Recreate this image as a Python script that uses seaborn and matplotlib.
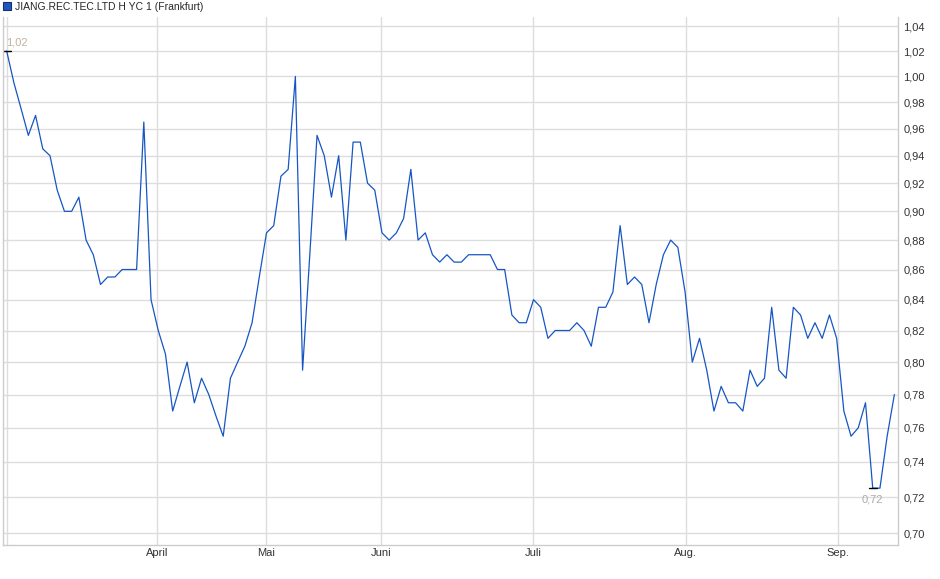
import matplotlib
matplotlib.use('Agg')
import matplotlib.pyplot as plt
from matplotlib.lines import Line2D
from matplotlib.ticker import NullLocator, FuncFormatter
import numpy as np
import pandas as pd
import seaborn as sns

# closing prices, one per trading day
prices = [
    1.02, 0.995, 0.975, 0.955, 0.97, 0.945, 0.94, 0.915, 0.90, 0.90,
    0.91, 0.88, 0.87, 0.85, 0.855, 0.855, 0.86, 0.86, 0.86, 0.965,
    0.84, 0.82, 0.805, 0.77, 0.785, 0.80, 0.775, 0.79, 0.78, 0.767,
    0.755, 0.79, 0.80, 0.81, 0.825, 0.855, 0.885, 0.89, 0.925, 0.93,
    1.00, 0.795, 0.87, 0.955, 0.94, 0.91, 0.94, 0.88, 0.95, 0.95,
    0.92, 0.915, 0.885, 0.88, 0.885, 0.895, 0.93, 0.88, 0.885, 0.87,
    0.865, 0.87, 0.865, 0.865, 0.87, 0.87, 0.87, 0.87, 0.86, 0.86,
    0.83, 0.825, 0.825, 0.84, 0.835, 0.815, 0.82, 0.82, 0.82, 0.825,
    0.82, 0.81, 0.835, 0.835, 0.845, 0.89, 0.85, 0.855, 0.85, 0.825,
    0.85, 0.87, 0.88, 0.875, 0.845, 0.80, 0.815, 0.795, 0.77, 0.785,
    0.775, 0.775, 0.77, 0.795, 0.785, 0.79, 0.835, 0.795, 0.79, 0.835,
    0.83, 0.815, 0.825, 0.815, 0.83, 0.815, 0.77, 0.755, 0.76, 0.775,
    0.725, 0.725, 0.755, 0.78,
]
month_labels = ['April', 'Mai', 'Juni', 'Juli', 'Aug.', 'Sep.']
month_pos = [20.87, 35.98, 51.92, 72.98, 94.09, 115.14]
y_ticks = [0.70, 0.72, 0.74, 0.76, 0.78, 0.80, 0.82, 0.84, 0.86, 0.88,
           0.90, 0.92, 0.94, 0.96, 0.98, 1.00, 1.02, 1.04]
series_name = 'JIANG.REC.TEC.LTD H YC 1 (Frankfurt)'
max_label = '1,02'
min_label = '0,72'

LINE = '#1656c4'
GRID = '#dddddd'

df = pd.DataFrame({'idx': np.arange(len(prices)), 'price': prices})

sns.set_style('white')
plt.rcParams['font.family'] = ['Liberation Sans', 'DejaVu Sans']

fig = plt.figure(figsize=(9.4, 5.79), dpi=100)
ax = fig.add_axes([0.0029, 0.0587, 0.9524, 0.9119])

sns.lineplot(data=df, x='idx', y='price', ax=ax, color=LINE, lw=0.9, legend=False)

ax.set_yscale('log')
ax.set_ylim(0.6935, 1.0475)
ax.set_xlim(-0.55, len(prices) - 0.5)
ax.set_yticks(y_ticks)
ax.yaxis.set_minor_locator(NullLocator())
ax.yaxis.set_major_formatter(FuncFormatter(lambda v, p: f'{v:.2f}'.replace('.', ',')))
ax.yaxis.tick_right()
ax.set_xticks(month_pos)
ax.set_xticklabels(month_labels)
ax.tick_params(axis='both', length=0, labelsize=8, colors='#333333')
ax.tick_params(axis='y', pad=4)
ax.tick_params(axis='x', pad=2.5)
ax.set_xlabel('')
ax.set_ylabel('')

ax.grid(True, color=GRID, lw=1)
ax.axvline(0, color=GRID, lw=1, zorder=0)
ax.set_axisbelow(True)
for side in ['left', 'right', 'bottom']:
    ax.spines[side].set_color('#cccccc')
    ax.spines[side].set_linewidth(1)
ax.spines['top'].set_visible(False)

# high / low markers
i_max = int(np.argmax(prices))
i_min = int(np.argmin(prices))
ax.plot([i_max - 0.55, i_max + 0.55], [prices[i_max]] * 2, color='black', lw=1)
ax.plot([i_min - 0.5, i_min + 0.6], [prices[i_min]] * 2, color='black', lw=1)
ax.annotate(max_label, xy=(i_max, prices[i_max]), xytext=(-0.5, 6),
            textcoords='offset points', ha='left', va='center',
            fontsize=8, color='#c0b2a4')
ax.annotate(min_label, xy=(i_min, prices[i_min]), xytext=(0, -8),
            textcoords='offset points', ha='center', va='center',
            fontsize=8, color='#aaaaaa')

handle = Line2D([], [], marker='s', linestyle='none', markersize=6,
                markerfacecolor='#1f56c0', markeredgecolor='#1a2f66', markeredgewidth=0.8)
fig.legend([handle], [series_name], loc='upper left', bbox_to_anchor=(0.0, 1.0),
           frameon=False, fontsize=7.5, borderaxespad=0.1, borderpad=0.1,
           handletextpad=0.2, handlelength=1.0)

fig.savefig('out.png', dpi=100)
